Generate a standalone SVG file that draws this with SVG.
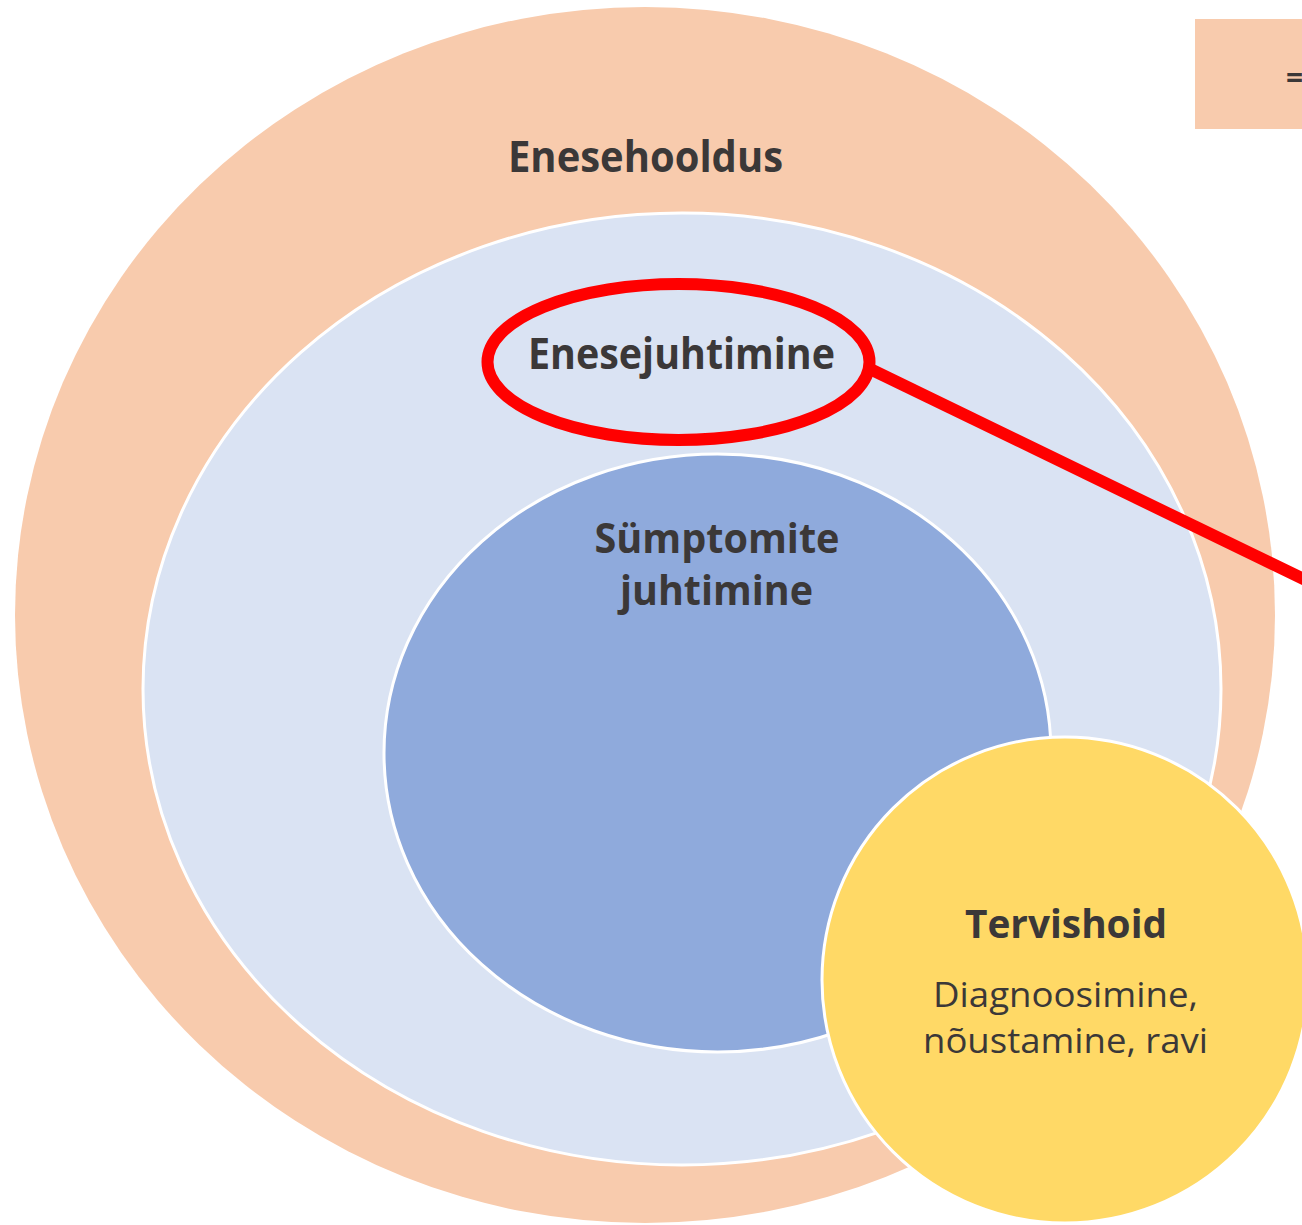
<svg xmlns="http://www.w3.org/2000/svg" width="1302" height="1225" viewBox="0 0 1302 1225">
<style>
.lbl{font-family:"Open Sans","Liberation Sans",sans-serif;fill:#3b3838;text-anchor:middle}
.b{font-weight:bold}
.ring{stroke:#ffffff;stroke-width:3}
</style>
<rect width="1302" height="1225" fill="#ffffff"/>
<g id="legend">
<rect x="1195" y="19" width="130" height="110" fill="#f8cbad"/>
<text x="1286" y="88" class="lbl b" style="text-anchor:start;font-size:30px">=</text>
</g>
<g id="enesehooldus">
<ellipse cx="645" cy="615" rx="630" ry="608" fill="#f8cbad"/>
<text x="645.5" y="172" class="lbl b" font-size="43" textLength="275" lengthAdjust="spacingAndGlyphs">Enesehooldus</text>
</g>
<g id="enesejuhtimine">
<ellipse cx="682" cy="689" rx="539" ry="476" fill="#dae3f3" class="ring"/>
<text x="681.5" y="369" class="lbl b" font-size="43" textLength="307" lengthAdjust="spacingAndGlyphs">Enesejuhtimine</text>
</g>
<g id="symptomite-juhtimine">
<ellipse cx="717.5" cy="753" rx="333.5" ry="299" fill="#8faadc" class="ring"/>
<text x="717" y="553" class="lbl b" font-size="41" textLength="245" lengthAdjust="spacingAndGlyphs">Sümptomite</text>
<text x="716.5" y="605" class="lbl b" font-size="41" textLength="193" lengthAdjust="spacingAndGlyphs">juhtimine</text>
</g>
<g id="tervishoid">
<circle cx="1065" cy="980" r="243" fill="#ffd966" class="ring"/>
<text x="1066" y="938" class="lbl b" font-size="39" textLength="202" lengthAdjust="spacingAndGlyphs">Tervishoid</text>
<text x="1065.5" y="1007" class="lbl" font-size="34" textLength="265" lengthAdjust="spacingAndGlyphs">Diagnoosimine,</text>
<text x="1065.5" y="1053" class="lbl" font-size="34" textLength="285" lengthAdjust="spacingAndGlyphs">nõustamine, ravi</text>
</g>
<g id="connectors">
<ellipse cx="678.5" cy="362" rx="191" ry="78" fill="none" stroke="#ff0000" stroke-width="12"/>
<line x1="866" y1="367" x2="1320" y2="587" stroke="#ff0000" stroke-width="12"/>
</g>
</svg>
